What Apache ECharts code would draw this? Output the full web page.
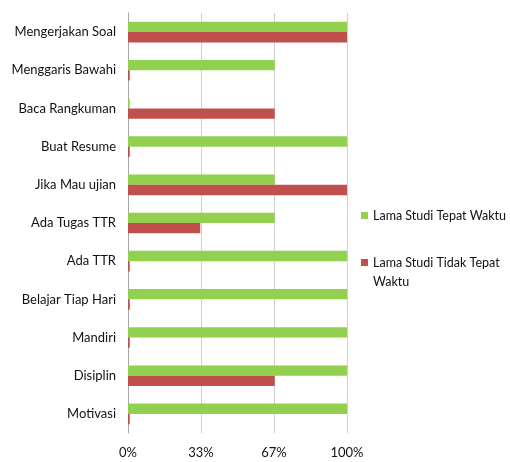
<!DOCTYPE html>
<html><head><meta charset="utf-8">
<script src="https://cdn.jsdelivr.net/npm/echarts@6/dist/echarts.min.js"></script>
<style>html,body{margin:0;padding:0;background:#fff}#c{width:510px;height:462px}</style>
</head><body><div id="c"></div>
<script>
const categories = ['Mengerjakan Soal','Menggaris Bawahi','Baca Rangkuman','Buat Resume','Jika Mau ujian','Ada Tugas TTR','Ada TTR','Belajar Tiap Hari','Mandiri','Disiplin','Motivasi'];
const tepatWaktu = [100, 67, 0.8, 100, 67, 67, 100, 100, 100, 100, 100];
const tidakTepatWaktu = [100, 0.8, 67, 0.8, 100, 33, 0.8, 0.8, 0.8, 67, 0.8];
const seriesNames = ['Lama Studi Tepat Waktu', 'Lama Studi Tidak Tepat Waktu'];
const xTicks = ['0%','33%','67%','100%'];

const font = 'Lato, sans-serif';
const chart = echarts.init(document.getElementById('c'));
chart.setOption({
  animation: false,
  textStyle: {fontFamily: font},
  grid: {left: 128, right: 163, top: 13, bottom: 29},
  legend: {
    orient: 'vertical', left: 356, top: 201, itemGap: 9,
    itemWidth: 7, itemHeight: 7, icon: 'rect',
    formatter: (n) => n === seriesNames[1] ? '\nLama Studi Tidak Tepat\nWaktu' : n,
    textStyle: {fontSize: 12.5, color: '#111', fontFamily: font, lineHeight: 19},
    data: seriesNames
  },
  xAxis: {
    type: 'value', min: 0, max: 100, interval: 100/3,
    axisLine: {show: false}, axisTick: {show: false},
    splitLine: {lineStyle: {color: '#d0d0d0'}},
    axisLabel: {fontSize: 13, color: '#111', margin: 13,
      formatter: (v) => xTicks[Math.round(v / (100/3))]}
  },
  yAxis: {
    type: 'category', inverse: true, data: categories,
    axisLine: {lineStyle: {color: '#a6a6a6'}},
    axisTick: {length: 5, lineStyle: {color: '#a6a6a6'}},
    axisLabel: {fontSize: 13, color: '#111', margin: 12}
  },
  series: [
    {name: seriesNames[0], type: 'bar', data: tepatWaktu, barGap: '0%', barCategoryGap: '46%', itemStyle: {color: '#92D050'}},
    {name: seriesNames[1], type: 'bar', data: tidakTepatWaktu, itemStyle: {color: '#C0504D'}}
  ]
});
</script></body></html>
